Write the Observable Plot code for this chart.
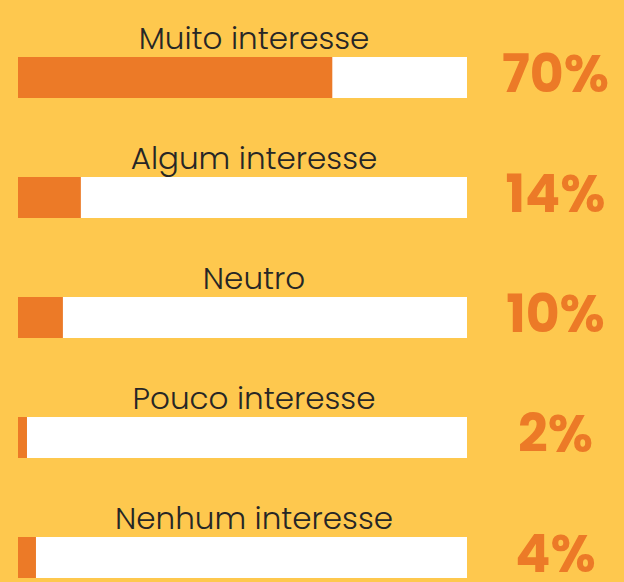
<!DOCTYPE html>
<html><head><meta charset="utf-8">
<script src="https://cdn.jsdelivr.net/npm/d3@7"></script>
<script src="https://cdn.jsdelivr.net/npm/@observablehq/plot@0.6"></script>
<style>html,body{margin:0;padding:0;background:#FEC84E;}</style>
</head><body><div id="chart"></div>
<script>
const categories = ["Muito interesse", "Algum interesse", "Neutro", "Pouco interesse", "Nenhum interesse"];
const values = [70, 14, 10, 2, 4];
const data = categories.map((c, i) => ({category: c, value: values[i]}));

const plot = Plot.plot({
  width: 624, height: 582, margin: 0,
  style: {background: "#FEC84E", overflow: "visible"},
  x: {domain: [0, 100], range: [18, 467], axis: null},
  y: {domain: categories, range: [57, 580], paddingInner: 0.66, paddingOuter: 0, align: 0, axis: null},
  marks: [
    Plot.barX(data, {x1: () => 0, x2: () => 100, y: "category", fill: "white"}),
    Plot.barX(data, {x1: () => 0, x2: "value", y: "category", fill: "#EC7A27"}),
    Plot.text(data, {x: () => 50, y: "category", text: "category", dx: 11, dy: -29.5,
      lineAnchor: "bottom", textAnchor: "middle", fill: "#262626",
      fontSize: 31, fontWeight: 300, fontFamily: "Poppins, Lato, 'Noto Sans', sans-serif"}),
    Plot.text(data, {x: () => 100, y: "category", text: d => d.value + "%", dx: 88, dy: -3,
      lineAnchor: "middle", textAnchor: "middle", fill: "#EC7A27",
      fontSize: 52, fontWeight: 700, fontFamily: "Poppins, 'Open Sans', Lato, sans-serif"})
  ]
});
document.getElementById("chart").append(plot);
</script>
</body></html>
